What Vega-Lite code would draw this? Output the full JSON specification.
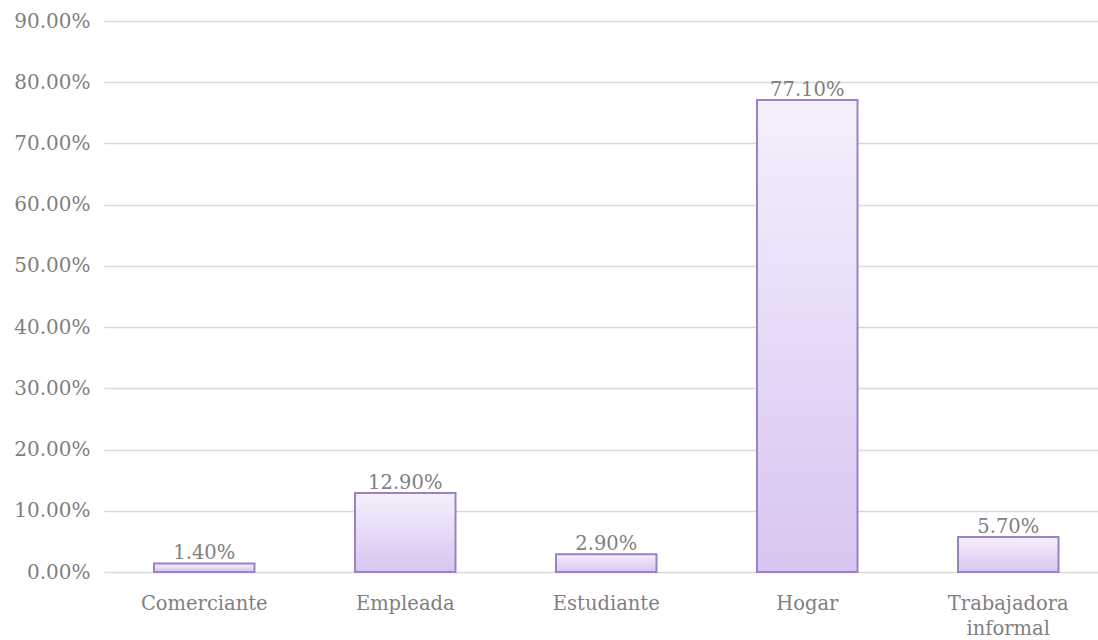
{
  "$schema": "https://vega.github.io/schema/vega-lite/v6.json",
  "width": 994,
  "height": 551,
  "autosize": {"type": "none"},
  "padding": {"left": 104, "top": 21, "right": 0, "bottom": 68},
  "background": "white",
  "config": {
    "view": {"stroke": null},
    "font": "DejaVu Serif"
  },
  "data": {
    "values": [
      {"ocupacion": "Comerciante", "pct": 0.014},
      {"ocupacion": "Empleada", "pct": 0.129},
      {"ocupacion": "Estudiante", "pct": 0.029},
      {"ocupacion": "Hogar", "pct": 0.771},
      {"ocupacion": "Trabajadora informal", "pct": 0.057}
    ]
  },
  "encoding": {
    "x": {
      "field": "ocupacion",
      "type": "nominal",
      "sort": null,
      "scale": {"paddingInner": 0.5, "paddingOuter": 0.2226, "align": 0.5587},
      "axis": {
        "title": null,
        "labelAngle": 0,
        "ticks": false,
        "domain": false,
        "labelFont": "DejaVu Serif",
        "labelFontSize": 19.5,
        "labelColor": "#7f7f7f",
        "labelPadding": 31,
        "labelBaseline": "middle",
        "labelLineHeight": 25,
        "labelExpr": "datum.value == 'Trabajadora informal' ? split(datum.value, ' ') : datum.value"
      }
    },
    "y": {
      "field": "pct",
      "type": "quantitative",
      "scale": {"domain": [0, 0.9], "nice": false},
      "axis": {
        "title": null,
        "values": [0, 0.1, 0.2, 0.3, 0.4, 0.5, 0.6, 0.7, 0.8, 0.9],
        "format": ".2%",
        "ticks": false,
        "domain": false,
        "grid": true,
        "gridColor": "#d9d9d9",
        "gridWidth": 1.3,
        "labelFont": "DejaVu Serif",
        "labelFontSize": 20,
        "labelColor": "#7f7f7f",
        "labelPadding": 14
      }
    }
  },
  "layer": [
    {
      "mark": {
        "type": "bar",
        "stroke": "#9a82c4",
        "strokeWidth": 2,
        "color": {
          "gradient": "linear",
          "x1": 0, "y1": 0, "x2": 0, "y2": 1,
          "stops": [
            {"offset": 0, "color": "#f5f0fd"},
            {"offset": 1, "color": "#d8c5f1"}
          ]
        }
      }
    },
    {
      "mark": {
        "type": "text",
        "baseline": "alphabetic",
        "dy": -4,
        "font": "DejaVu Serif",
        "fontSize": 19.5,
        "color": "#7f7f7f"
      },
      "encoding": {
        "text": {"field": "pct", "type": "quantitative", "format": ".2%"}
      }
    }
  ]
}
